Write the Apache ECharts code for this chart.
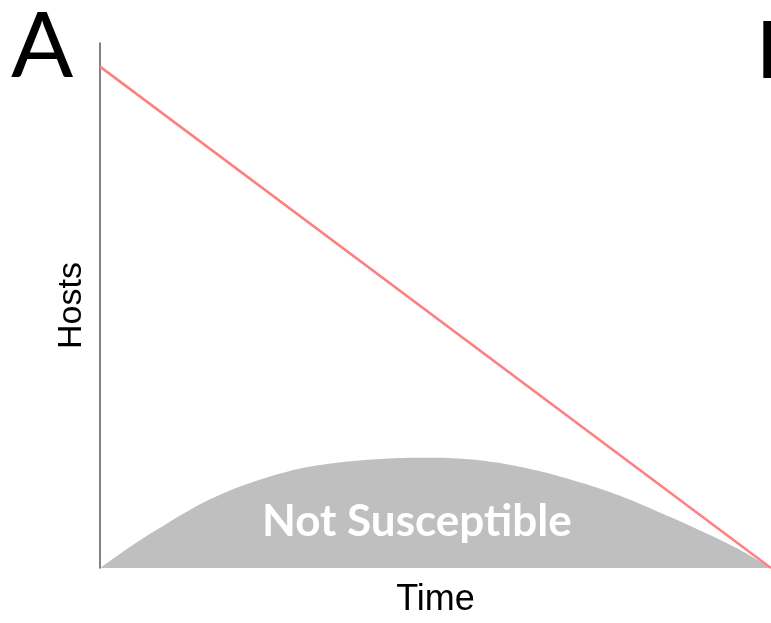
<!DOCTYPE html>
<html><head><meta charset="utf-8">
<script src="https://cdn.jsdelivr.net/npm/echarts@6/dist/echarts.min.js"></script>
<style>html,body{margin:0;padding:0;background:#fff}#c{width:771px;height:623px}</style>
</head><body><div id="c"></div>
<script>
const timePoints = [0,5,10,15,20,25,30,35,40,45,50,55,60,65,70,75,80,85,90,95,100];
const notSusceptible = [0,4.5,8.5,12.2,15.1,17.3,19.0,20.0,20.6,20.95,21.0,20.7,19.9,18.6,16.9,14.9,12.5,9.7,6.8,3.7,0];
const hostLineTime = [0,100];
const hostLineValues = [95.5,0];
const panelLabels = ['A','B'];
const yAxisName = 'Hosts';
const xAxisName = 'Time';
const areaLabel = 'Not Susceptible';

const chart = echarts.init(document.getElementById('c'), null, {renderer:'canvas'});
chart.setOption({
  animation:false,
  backgroundColor:'#fff',
  grid:{left:100,right:0,top:43,bottom:52},
  xAxis:{type:'value',min:0,max:100,
    name:xAxisName,nameLocation:'middle',nameGap:14,
    nameTextStyle:{fontFamily:'Liberation Sans',fontSize:36,color:'#000',verticalAlign:'top'},
    axisLine:{show:false},axisTick:{show:false},axisLabel:{show:false},splitLine:{show:false}},
  yAxis:{type:'value',min:0,max:100,
    name:yAxisName,nameLocation:'middle',nameGap:11,nameRotate:90,
    nameTextStyle:{fontFamily:'Liberation Sans',fontSize:34,color:'#000',verticalAlign:'bottom'},
    axisLine:{show:true,lineStyle:{color:'#595959',width:1.5}},axisTick:{show:false},axisLabel:{show:false},splitLine:{show:false}},
  series:[
    {type:'line',data:timePoints.map((t,i)=>[t,notSusceptible[i]]),smooth:0.3,symbol:'none',
     lineStyle:{width:0},areaStyle:{color:'#bfbfbf',opacity:1},z:1},
    {type:'line',data:hostLineTime.map((t,i)=>[t,hostLineValues[i]]),symbol:'none',
     lineStyle:{color:'#ff7f7f',width:2.5},z:3}
  ],
  graphic:[
    {type:'text',x:11,y:1,style:{text:panelLabels[0],font:'normal 92px Lato',fill:'#000',verticalAlign:'top'}},
    {type:'text',x:756,y:12,style:{text:panelLabels[1],font:'normal 80px Lato',fill:'#000',verticalAlign:'top'}},
    {type:'text',x:262,y:500,z:10,style:{text:areaLabel,font:'bold 44px Lato',fill:'#fff',verticalAlign:'top'}}
  ]
});
</script></body></html>
